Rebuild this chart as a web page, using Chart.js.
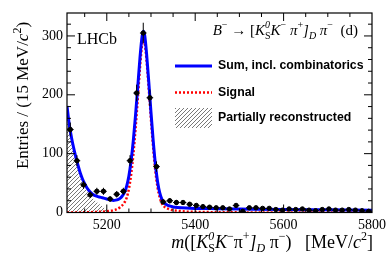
<!DOCTYPE html>
<html>
<head>
<meta charset="utf-8">
<script src="https://cdn.jsdelivr.net/npm/chart.js@4.4.1/dist/chart.umd.min.js"></script>
<style>
  html, body { margin: 0; padding: 0; background: #fff; }
  canvas { display: block; }
</style>
</head>
<body>
<canvas id="chart" width="392" height="266"></canvas>
<script>
// binned data, 15 MeV bins from 5110 to 5800
const binMass = [
  5117.5, 5132.5, 5147.5, 5162.5, 5177.5, 5192.5, 5207.5, 5222.5, 5237.5, 5252.5,
  5267.5, 5282.5, 5297.5, 5312.5, 5327.5, 5342.5, 5357.5, 5372.5, 5387.5, 5402.5,
  5417.5, 5432.5, 5447.5, 5462.5, 5477.5, 5492.5, 5507.5, 5522.5, 5537.5, 5552.5,
  5567.5, 5582.5, 5597.5, 5612.5, 5627.5, 5642.5, 5657.5, 5672.5, 5687.5, 5702.5,
  5717.5, 5732.5, 5747.5, 5762.5, 5777.5, 5792.5
];
const entries = [
  141, 88, 47, 30, 36, 36, 23, 31, 36, 88,
  203, 305, 195, 78, 18, 20, 17, 17, 14, 12,
  10, 9, 8, 8, 6, 12, 2, 8, 8, 7,
  7, 5, 4, 6, 5, 6, 4, 3, 5, 6,
  4, 4, 5, 4, 3, 2
];

// fit curves
const totalMass = [
  5110, 5115, 5120, 5125, 5130, 5135, 5140, 5145, 5150, 5155, 5160, 5165, 5170, 5180,
  5190, 5200, 5210, 5215, 5220, 5225, 5230, 5235, 5240, 5245, 5250, 5255, 5260, 5265,
  5270, 5275, 5280, 5283, 5286, 5290, 5295, 5300, 5305, 5310, 5315, 5320, 5325, 5330,
  5340, 5350, 5360, 5380, 5400, 5450, 5500, 5600, 5700, 5800
];
const totalFit = [
  181, 150, 128, 110, 94, 80, 67, 57, 49, 42, 37, 33, 30, 27,
  25, 23, 21, 20.5, 21, 22, 24, 28, 34, 45, 62, 88, 122, 165,
  213, 262, 300, 308, 300, 270, 222, 170, 122, 82, 52, 33, 22, 16,
  11.5, 9.5, 8.5, 7.5, 7, 6.5, 6, 5, 4.5, 4
];
const signalMass = [
  5110, 5150, 5180, 5200, 5210, 5220, 5230, 5240, 5245, 5250, 5255, 5260, 5265, 5270,
  5275, 5280, 5283, 5286, 5290, 5295, 5300, 5305, 5310, 5315, 5320, 5325, 5330, 5340,
  5350, 5360, 5380, 5400, 5450, 5500, 5600, 5800
];
const signalFit = [
  0, 0.3, 1, 2, 3, 5, 9, 17, 25, 40, 64, 98, 142, 192,
  245, 286, 296, 288, 258, 210, 158, 110, 70, 42, 25, 15, 10, 6,
  4, 3, 1.5, 1, 0.5, 0.2, 0, 0
];
const partMass = [5110, 5120, 5130, 5140, 5150, 5160, 5170, 5180, 5190, 5200, 5205, 5210, 5215];
const partFit  = [172, 118, 85, 58, 42, 31, 23, 16, 10, 5, 2.5, 0.5, 0];

const xTicks = [5200, 5400, 5600, 5800];
const yTicks = [0, 100, 200, 300];

const serif = '"Liberation Serif", "Times New Roman", serif';
const sans = '"Liberation Sans", Arial, sans-serif';

const canvas = document.getElementById("chart");
const ctx = canvas.getContext("2d");

function makeHatch() {
  const c = document.createElement("canvas");
  c.width = 4; c.height = 4;
  const g = c.getContext("2d");
  g.strokeStyle = "#555";
  g.lineWidth = 0.8;
  g.beginPath();
  g.moveTo(0, 4); g.lineTo(4, 0);
  g.moveTo(-1, 1); g.lineTo(1, -1);
  g.moveTo(3, 5); g.lineTo(5, 3);
  g.stroke();
  return ctx.createPattern(c, "repeat");
}
const hatch = makeHatch();

const pts = (xs, ys) => xs.map((x, i) => ({ x: x, y: ys[i] }));

// text with super/subscripts: [text, italic, size, dy, stack]
function richWidth(c, segs) {
  let w = 0;
  segs.forEach(s => {
    c.font = (s[1] ? "italic " : "") + s[2] + "px " + serif;
    if (!s[4]) w += c.measureText(s[0]).width;
  });
  return w;
}
function drawRich(c, segs, x, y) {
  segs.forEach(s => {
    c.font = (s[1] ? "italic " : "") + s[2] + "px " + serif;
    c.fillText(s[0], x, y + s[3]);
    if (!s[4]) x += c.measureText(s[0]).width;
  });
}

const xTitle = [
  ["m", 1, 18, 0], ["([", 0, 18, 0], ["K", 1, 18, 0],
  ["0", 1, 12, -8, 1], ["S", 0, 12, 4], ["K", 1, 18, 0], ["\u2212", 0, 12, -8],
  ["\u03c0", 0, 18, 0], ["+", 0, 12, -8], ["]", 1, 18, 0], ["D", 1, 12, 4],
  [" \u03c0", 0, 18, 0], ["\u2212", 0, 12, -8], [")   [MeV/", 0, 18, 0],
  ["c", 1, 18, 0], ["2", 0, 12, -8], ["]", 0, 18, 0]
];
const yTitle = [
  ["Entries / (15 MeV/", 0, 17, 0], ["c", 1, 17, 0], ["2", 0, 12, -7], [")", 0, 17, 0]
];
const decay = [
  ["B", 1, 15, 0], ["\u2212", 0, 10, -7], [" \u2192 [", 0, 15, 0], ["K", 1, 15, 0],
  ["0", 1, 10, -7, 1], ["S", 0, 10, 4], ["K", 1, 15, 0], ["\u2212", 0, 10, -7],
  [" \u03c0", 1, 15, 0], ["+", 0, 10, -7], ["]", 1, 15, 0], ["D", 1, 10, 4],
  [" \u03c0", 1, 15, 0], ["\u2212", 0, 10, -7], ["  (d)", 0, 15, 0]
];

const decorations = {
  id: "decorations",
  afterDatasetsDraw(chart) {
    const c = chart.ctx, xs = chart.scales.x, ys = chart.scales.y;
    const a = chart.chartArea;
    c.save();
    // error bars
    c.strokeStyle = "#000";
    c.lineWidth = 1;
    c.beginPath();
    entries.forEach((n, i) => {
      const px = xs.getPixelForValue(binMass[i]);
      const e = Math.sqrt(n);
      c.moveTo(px, ys.getPixelForValue(n + e));
      c.lineTo(px, Math.min(ys.getPixelForValue(Math.max(n - e, 0)), a.bottom));
      c.moveTo(xs.getPixelForValue(binMass[i] - 7.5), ys.getPixelForValue(n));
      c.lineTo(xs.getPixelForValue(binMass[i] + 7.5), ys.getPixelForValue(n));
    });
    c.stroke();
    c.restore();
  },
  afterDraw(chart) {
    const c = chart.ctx, xs = chart.scales.x, ys = chart.scales.y;
    const a = chart.chartArea;
    c.save();
    c.strokeStyle = "#000";
    c.lineWidth = 1.2;
    c.strokeRect(a.left, a.top, a.right - a.left, a.bottom - a.top);
    c.lineWidth = 1;
    c.beginPath();
    for (let m = 5150; m < 5800; m += 50) {
      const px = xs.getPixelForValue(m);
      const len = xTicks.includes(m) ? 8 : 4;
      c.moveTo(px, a.bottom); c.lineTo(px, a.bottom - len);
      c.moveTo(px, a.top); c.lineTo(px, a.top + len);
    }
    for (let v = 0; v <= 320; v += 20) {
      const py = ys.getPixelForValue(v);
      const len = yTicks.includes(v) ? 8 : 4;
      c.moveTo(a.left, py); c.lineTo(a.left + len, py);
      c.moveTo(a.right, py); c.lineTo(a.right - len, py);
    }
    c.stroke();

    c.fillStyle = "#000";
    c.textBaseline = "alphabetic";
    // LHCb label
    c.font = "16px " + serif;
    c.fillText("LHCb", 77, 43.5);
    // decay label
    drawRich(c, decay, 358 - richWidth(c, decay), 35);
    // x title
    drawRich(c, xTitle, 373 - richWidth(c, xTitle), 248);
    // y title
    c.save();
    c.translate(28, 95.5);
    c.rotate(-Math.PI / 2);
    drawRich(c, yTitle, -richWidth(c, yTitle) / 2, 0);
    c.restore();

    // legend
    c.lineWidth = 3;
    c.strokeStyle = "#0000ff";
    c.beginPath(); c.moveTo(175, 66); c.lineTo(212, 66); c.stroke();
    c.lineWidth = 2.5;
    c.strokeStyle = "#ff0000";
    c.setLineDash([2, 2]);
    c.beginPath(); c.moveTo(175, 92.5); c.lineTo(212, 92.5); c.stroke();
    c.setLineDash([]);
    c.fillStyle = hatch;
    c.fillRect(175, 108, 37, 20);
    c.fillStyle = "#000";
    c.font = "bold 12.3px " + sans;
    c.textBaseline = "middle";
    c.fillText("Sum, incl. combinatorics", 218, 66);
    c.fillText("Signal", 218, 92.5);
    c.fillText("Partially reconstructed", 218, 118);
    c.restore();
  }
};

new Chart(canvas, {
  type: "line",
  data: {
    datasets: [
      {
        type: "scatter",
        label: "Data",
        data: pts(binMass, entries),
        backgroundColor: "#000",
        borderColor: "#000",
        pointRadius: 2.2,
        order: 0,
      },
      {
        label: "Sum, incl. combinatorics",
        data: pts(totalMass, totalFit),
        borderColor: "#0000ff",
        borderWidth: 3,
        pointRadius: 0,
        cubicInterpolationMode: "monotone",
        fill: false,
        order: 1,
      },
      {
        label: "Signal",
        data: pts(signalMass, signalFit),
        borderColor: "#ff0000",
        borderWidth: 2.5,
        borderDash: [2, 2],
        pointRadius: 0,
        cubicInterpolationMode: "monotone",
        fill: false,
        order: 2,
      },
      {
        label: "Partially reconstructed",
        data: pts(partMass, partFit),
        borderWidth: 0,
        borderColor: "rgba(0,0,0,0)",
        backgroundColor: hatch,
        pointRadius: 0,
        cubicInterpolationMode: "monotone",
        fill: "origin",
        order: 3,
      },
    ],
  },
  options: {
    responsive: false,
    animation: false,
    devicePixelRatio: 1,
    layout: { padding: { left: 0, right: 20, top: 13, bottom: 0 } },
    plugins: { legend: { display: false }, tooltip: { enabled: false } },
    scales: {
      x: {
        type: "linear",
        min: 5110,
        max: 5800,
        grid: { display: false, drawTicks: false, tickLength: 0 },
        border: { display: false },
        afterBuildTicks: (s) => { s.ticks = xTicks.map(v => ({ value: v })); },
        afterFit: (s) => { s.height = 53.5; },
        ticks: {
          color: "#000", padding: 4, maxRotation: 0,
          font: { family: serif, size: 14 },
          callback: (v) => String(v),
        },
      },
      y: {
        min: 0,
        max: 339,
        grid: { display: false, drawTicks: false, tickLength: 0 },
        border: { display: false },
        afterBuildTicks: (s) => { s.ticks = yTicks.map(v => ({ value: v })); },
        afterFit: (s) => { s.width = 67; },
        ticks: {
          color: "#000", padding: 4,
          font: { family: serif, size: 14 },
          callback: (v) => String(v),
        },
      },
    },
  },
  plugins: [decorations],
});
</script>
</body>
</html>
